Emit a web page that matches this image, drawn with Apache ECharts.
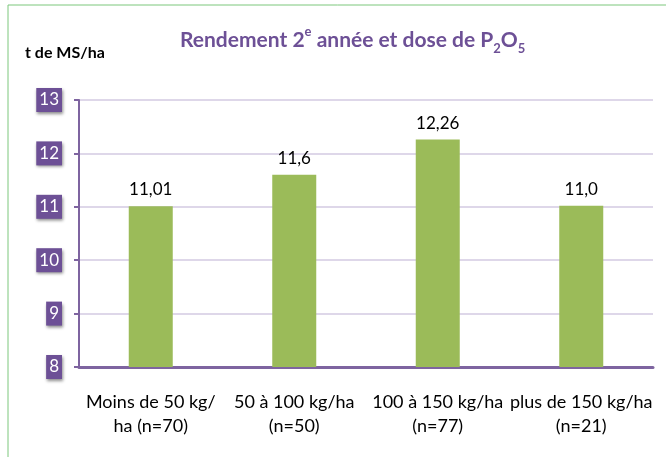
<!DOCTYPE html>
<html>
<head>
<meta charset="utf-8">
<script src="https://cdn.jsdelivr.net/npm/echarts@6/dist/echarts.min.js"></script>
<style>
  html, body { margin: 0; padding: 0; background: #fff; }
  #chart { width: 666px; height: 457px; }
</style>
</head>
<body>
<div id="chart"></div>
<script>
const categories = ['Moins de 50 kg/\nha (n=70)', '50 à 100 kg/ha\n(n=50)', '100 à 150 kg/ha\n(n=77)', 'plus de 150 kg/ha\n(n=21)'];
const rendement = [11.01, 11.6, 12.26, 11.02];
const valueLabels = ['11,01', '11,6', '12,26', '11,0'];
const yMin = 8, yMax = 13, yStep = 1;

const font = 'Lato, "Open Sans", sans-serif';
const purple = '#6d5096';

let myChart = echarts.init(document.getElementById('chart'));
let option = {
    backgroundColor: '#fff',
    animation: false,
    title: {
        left: 175,
        top: 20,
        text: '{t|Rendement 2}{sup|e}{t| année et dose de P}{sub|2}{t|O}{sub|5}',
        textStyle: {
            rich: {
                t: { fontFamily: font, fontSize: 21, fontWeight: 'bold', color: purple, lineHeight: 30 },
                sup: { fontFamily: font, fontSize: 13, fontWeight: 'bold', color: purple, verticalAlign: 'top', lineHeight: 16 },
                sub: { fontFamily: font, fontSize: 13, fontWeight: 'bold', color: purple, verticalAlign: 'bottom', lineHeight: 16 }
            }
        }
    },
    graphic: [
        {
            type: 'rect',
            shape: { x: 8, y: 5, width: 700, height: 500 },
            style: { fill: 'none', stroke: '#7cc77c', lineWidth: 1 },
            silent: true
        },
        {
            type: 'text',
            left: 25,
            top: 45,
            style: { text: 't de MS/ha', fontFamily: font, fontSize: 16, fontWeight: 'bold', fill: '#000' }
        }
    ],
    grid: { left: 79, right: 13, top: 100, bottom: 90 },
    xAxis: {
        type: 'category',
        data: categories,
        axisLine: { lineStyle: { color: '#7e64a0', width: 3 } },
        axisTick: { show: false },
        axisLabel: {
            fontFamily: font, fontSize: 18, color: '#000',
            lineHeight: 24, margin: 23, interval: 0
        }
    },
    yAxis: {
        type: 'value',
        min: yMin,
        max: yMax,
        interval: yStep,
        axisLine: { show: true, lineStyle: { color: '#7e64a0', width: 2 } },
        axisTick: { show: true, length: 5, lineStyle: { color: '#7e64a0', width: 2 } },
        splitLine: { lineStyle: { color: '#d3cae2', width: 1.5 } },
        axisLabel: {
            fontFamily: font, fontSize: 17, color: '#fff',
            backgroundColor: purple,
            padding: [4, 3, 3, 3],
            margin: 17,
            shadowColor: 'rgba(0,0,0,0.45)',
            shadowBlur: 3,
            shadowOffsetX: 1,
            shadowOffsetY: 2
        }
    },
    series: [
        {
            type: 'bar',
            data: rendement,
            barWidth: 44,
            itemStyle: { color: '#9bbb59' },
            label: {
                show: true,
                position: 'top',
                distance: 8,
                fontFamily: font,
                fontSize: 17,
                color: '#000',
                formatter: p => valueLabels[p.dataIndex]
            }
        }
    ]
};
option && myChart.setOption(option);
</script>
</body>
</html>
